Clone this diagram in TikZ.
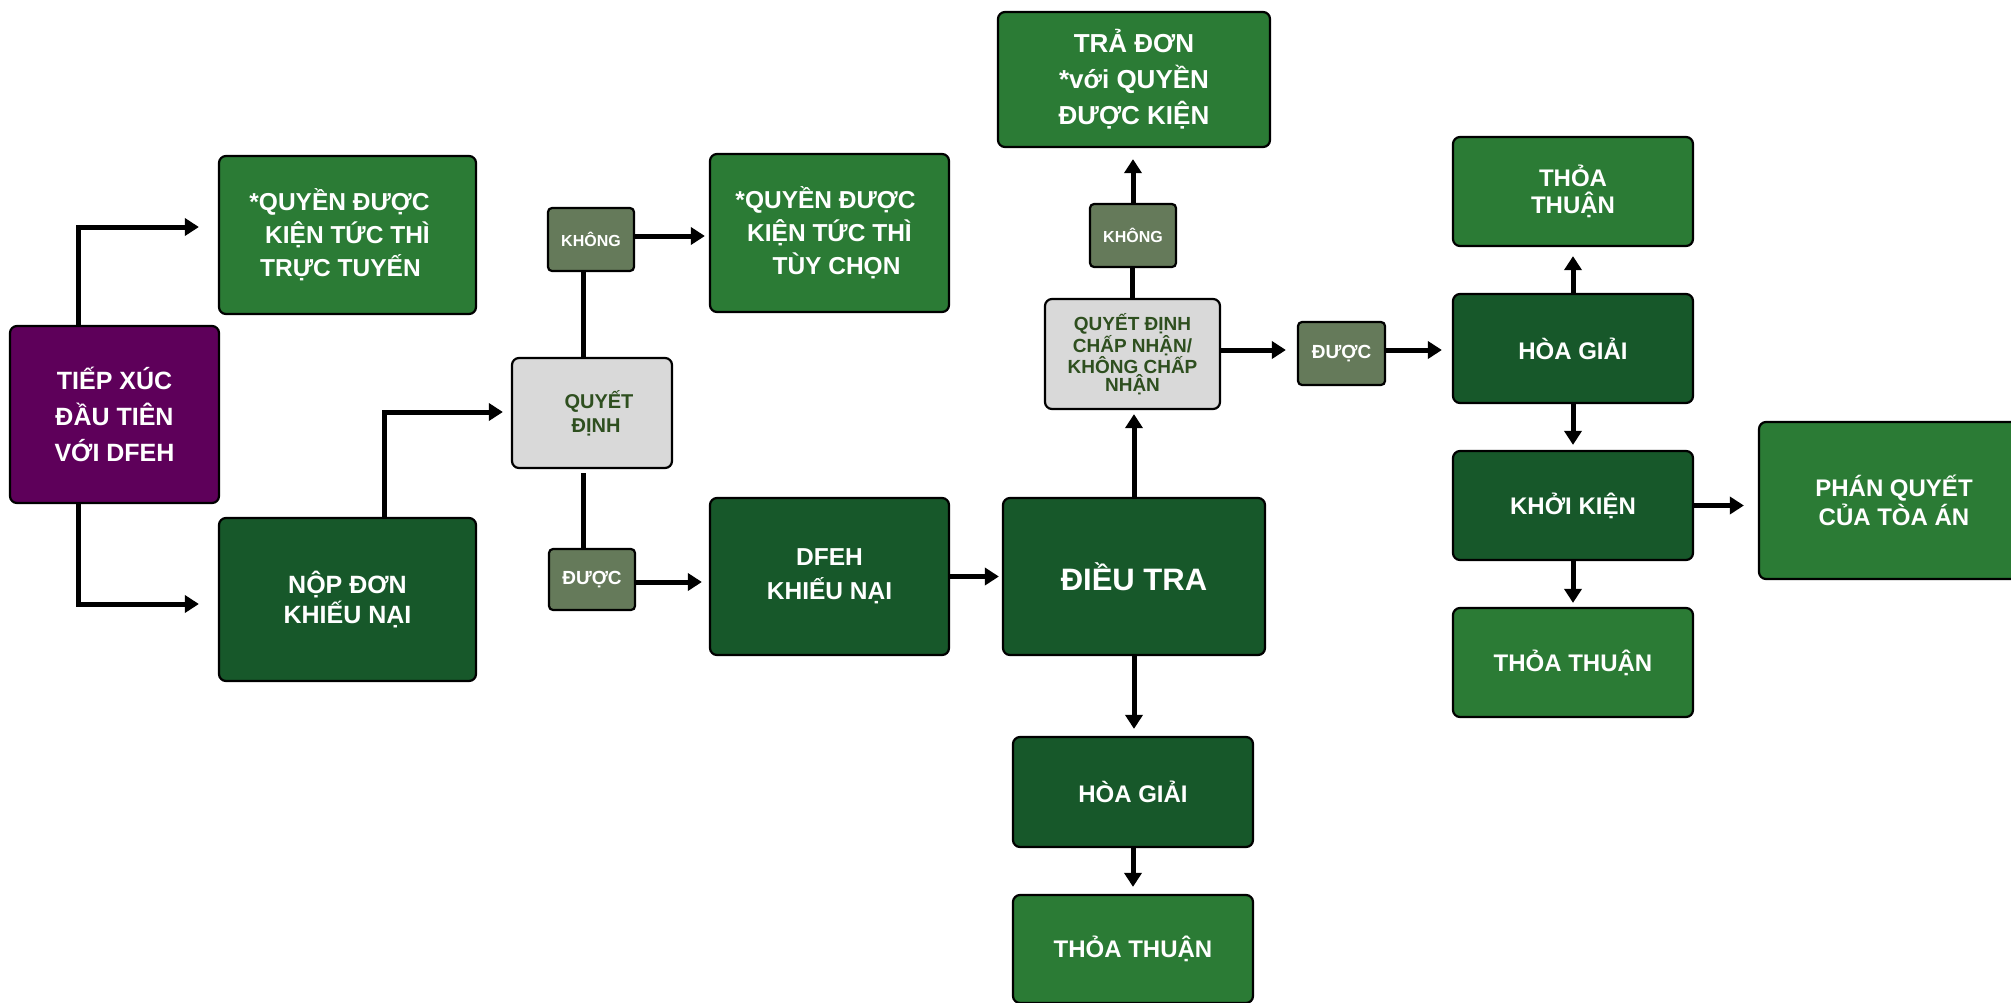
\documentclass[tikz,border=0pt]{standalone}
\usepackage{fontspec}
\setmainfont{Liberation Sans}
\usetikzlibrary{arrows.meta}
\definecolor{purp}{HTML}{5E005A}
\definecolor{lgreen}{HTML}{2B7B35}
\definecolor{dgreen}{HTML}{17582A}
\definecolor{gbox}{HTML}{D9D9D9}
\definecolor{sbox}{HTML}{657A5A}
\definecolor{gtext}{HTML}{2E4F1F}
\begin{document}
\begin{tikzpicture}[x=1pt,y=-1pt,
  box/.style={draw=black, line width=2.2pt, rounded corners=7pt, inner sep=0pt, align=center, text=white, font=\bfseries},
  purplebox/.style={box, fill=purp},
  lightbox/.style={box, fill=lgreen},
  darkbox/.style={box, fill=dgreen},
  graybox/.style={box, fill=gbox, text=gtext},
  smallbox/.style={box, fill=sbox, rounded corners=4pt},
  sz/.style 2 args={font=\fontsize{#1}{#2}\selectfont\bfseries},
  dim/.style 2 args={minimum width=#1pt, minimum height=#2pt},
  conn/.style={line width=5pt, draw=black},
  arr/.style={conn, -{Triangle[width=17pt,length=14pt]}}
]
\fill[white] (0,0) rectangle (2011,1002);
\useasboundingbox (0,0) rectangle (2011,1002);

% boxes
\node[purplebox, sz={25}{36}, dim={209}{177}] (tip) at (114.5,414.5) {TIẾP XÚC\\ĐẦU TIÊN\\VỚI DFEH};
\node[lightbox, sz={24.5}{33}, dim={257}{158}] (online) at (347.5,235) {*QUYỀN ĐƯỢC\hspace*{16pt}\\KIỆN TỨC THÌ\hspace*{14pt}\\TRỰC TUYẾN\hspace*{14pt}};
\node[darkbox, sz={25}{30}, dim={257}{163}] (nop) at (347.5,599.5) {NỘP ĐƠN\\KHIẾU NẠI};
\node[graybox, sz={20}{24}, dim={160}{110}] (qd) at (592,413) {\hspace*{14pt}QUYẾT\\\hspace*{8pt}ĐỊNH};
\node[smallbox, sz={16}{18}, dim={86}{63}] (khong1) at (591,239.5) {KHÔNG};
\node[smallbox, sz={19}{20}, dim={86}{61}] (duoc1) at (592,579.5) {ĐƯỢC};
\node[lightbox, sz={24.5}{33}, dim={239}{158}] (tuychon) at (829.5,233) {*QUYỀN ĐƯỢC\hspace*{8pt}\\KIỆN TỨC THÌ\hspace*{8pt}\\\hspace*{14pt}TÙY CHỌN};
\node[darkbox, sz={24.5}{34}, dim={239}{157}] (dfeh) at (829.5,576.5) {DFEH\\KHIẾU NẠI};
\node[darkbox, sz={31}{36}, dim={262}{157}] (dieutra) at (1134,576.5) {ĐIỀU TRA};
\node[graybox, sz={19}{17.5}, dim={175}{110}] (qdcn) at (1132.5,354) {QUYẾT ĐỊNH\\CHẤP NHẬN/\\KHÔNG CHẤP\\NHẬN};
\node[smallbox, sz={16}{18}, dim={86}{63}] (khong2) at (1133,235.5) {KHÔNG};
\node[lightbox, sz={26}{36}, dim={272}{135}] (tradon) at (1134,79.5) {TRẢ ĐƠN\\*với QUYỀN\\ĐƯỢC KIỆN};
\node[smallbox, sz={19}{20}, dim={87}{63}] (duoc2) at (1341.5,353.5) {ĐƯỢC};
\node[darkbox, sz={24}{28}, dim={240}{109}] (hoagiaiR) at (1573,348.5) {HÒA GIẢI};
\node[lightbox, sz={24}{27}, dim={240}{109}] (thoaTop) at (1573,191.5) {THỎA\\THUẬN};
\node[darkbox, sz={24}{28}, dim={240}{109}] (khoikien) at (1573,505.5) {KHỞI KIỆN};
\node[lightbox, sz={24}{28}, dim={240}{109}] (thoaR) at (1573,662.5) {THỎA THUẬN};
\node[lightbox, sz={24}{29}, dim={270}{157}] (phanquyet) at (1894,500.5) {PHÁN QUYẾT\\CỦA TÒA ÁN};
\node[darkbox, sz={24}{28}, dim={240}{110}] (hoagiaiB) at (1133,792) {HÒA GIẢI};
\node[lightbox, sz={24}{28}, dim={240}{108}] (thoaB) at (1133,949) {THỎA THUẬN};

% helper coordinates
\coordinate (k1b) at ([xshift=-8pt]khong1.south);
\coordinate (d1t) at ([xshift=-9pt]duoc1.north);
\coordinate (k1e) at ([yshift=3.5pt]khong1.east);
\coordinate (d1e) at ([yshift=-2.5pt]duoc1.east);
\coordinate (qe) at ([yshift=4pt]qdcn.east);
\coordinate (d2e) at ([yshift=3.5pt]duoc2.east);

% connectors
\draw[arr] ([xshift=-36.5pt]tip.north) |- ([xshift=-19pt,yshift=8pt]online.west);
\draw[arr] ([xshift=-36.5pt]tip.south) |- ([xshift=-19pt,yshift=-4.5pt]nop.west);
\draw[arr] ([xshift=36.5pt]nop.north) |- ([xshift=-8pt,yshift=1pt]qd.west);
\draw[conn] (k1b) -- (k1b |- qd.north);
\draw[conn, shorten >=4pt] (d1t) -- (d1t |- qd.south);
\draw[arr, shorten >=4pt] (k1e) -- (k1e -| tuychon.west);
\draw[arr, shorten >=7pt] (d1e) -- (d1e -| dfeh.west);
\draw[arr, shorten >=3pt] (dfeh.east) -- (dfeh.east -| dieutra.west);
\draw[arr, shorten >=4pt] (dieutra.north) -- (dieutra.north |- qdcn.south);
\draw[conn] (qdcn.north) -- (qdcn.north |- khong2.south);
\draw[arr, shorten >=11pt] (khong2.north) -- (khong2.north |- tradon.south);
\draw[arr, shorten >=11pt] (qe) -- (qe -| duoc2.west);
\draw[arr, shorten >=10pt] (d2e) -- (d2e -| hoagiaiR.west);
\draw[arr, shorten >=9pt] (hoagiaiR.north) -- (thoaTop.south);
\draw[arr, shorten >=5pt] (hoagiaiR.south) -- (khoikien.north);
\draw[arr, shorten >=4pt] (khoikien.south) -- (thoaR.north);
\draw[arr, shorten >=14pt] (khoikien.east) -- (khoikien.east -| phanquyet.west);
\draw[arr, shorten >=7pt] (dieutra.south) -- (dieutra.south |- hoagiaiB.north);
\draw[arr, shorten >=7pt] (hoagiaiB.south) -- (thoaB.north);
\end{tikzpicture}
\end{document}
